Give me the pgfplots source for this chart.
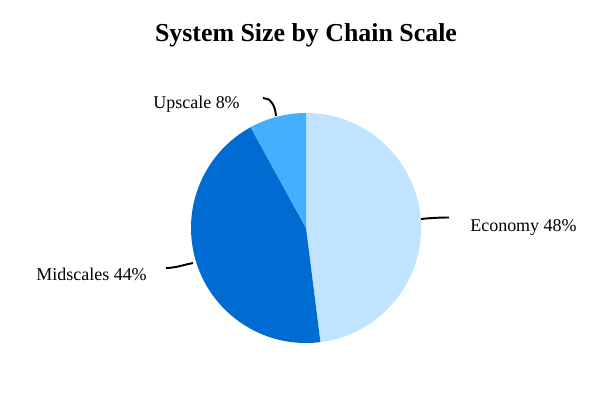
\documentclass[border=0pt]{standalone}
\usepackage{fontspec}
\setmainfont{Liberation Serif}
\usepackage{pgfplots}
\usepackage{pgfplotstable}
\pgfplotsset{compat=1.18}
\definecolor{econ}{HTML}{C0E4FF}
\definecolor{mid}{HTML}{006BD1}
\definecolor{up}{HTML}{45AEFF}
\pgfplotstableread{
label value
Economy 48
Midscales 44
Upscale 8
}\piedata
\begin{document}
\begin{tikzpicture}
\pgfplotstablegetelem{0}{value}\of\piedata \pgfmathsetmacro{\va}{\pgfplotsretval}
\pgfplotstablegetelem{1}{value}\of\piedata \pgfmathsetmacro{\vb}{\pgfplotsretval}
\pgfplotstablegetelem{2}{value}\of\piedata \pgfmathsetmacro{\vc}{\pgfplotsretval}
\pgfmathsetmacro{\aA}{90-3.6*\va}
\pgfmathsetmacro{\aB}{\aA-3.6*\vb}
\pgfmathsetmacro{\aC}{\aB-3.6*\vc}
\begin{axis}[width=6.1in,height=3.96in,scale only axis,hide axis,
  xmin=0,xmax=610,ymin=0,ymax=396,clip=false]
\path[draw=none] (axis cs:0,0) rectangle (axis cs:610,396);
\fill[econ] (axis cs:306,168) -- ++(90:1.15in) arc[start angle=90,end angle=\aA,radius=1.15in] -- cycle;
\fill[mid] (axis cs:306,168) -- ++(\aA:1.15in) arc[start angle=\aA,end angle=\aB,radius=1.15in] -- cycle;
\fill[up] (axis cs:306,168) -- ++(\aB:1.15in) arc[start angle=\aB,end angle=\aC,radius=1.15in] -- cycle;
\draw[line width=1.4pt] (axis cs:421,177) .. controls (axis cs:430,178) and (axis cs:440,178.5) .. (axis cs:449,178.5);
\draw[line width=1.4pt] (axis cs:193,133) .. controls (axis cs:183,131) and (axis cs:175,128) .. (axis cs:166,128);
\draw[line width=1.4pt] (axis cs:276,280) .. controls (axis cs:275,292) and (axis cs:270,298) .. (axis cs:263,298);
\node[anchor=west,inner sep=0pt,font=\fontsize{13}{15}\selectfont] at (axis cs:470,169) {Economy 48\%};
\node[anchor=east,inner sep=0pt,font=\fontsize{13}{15}\selectfont] at (axis cs:147,122) {Midscales 44\%};
\node[anchor=east,inner sep=0pt,font=\fontsize{13}{15}\selectfont] at (axis cs:240,292) {Upscale 8\%};
\node[font=\bfseries\fontsize{18.7}{22}\selectfont] at (axis cs:306,361) {System Size by Chain Scale};
\end{axis}
\end{tikzpicture}
\end{document}
